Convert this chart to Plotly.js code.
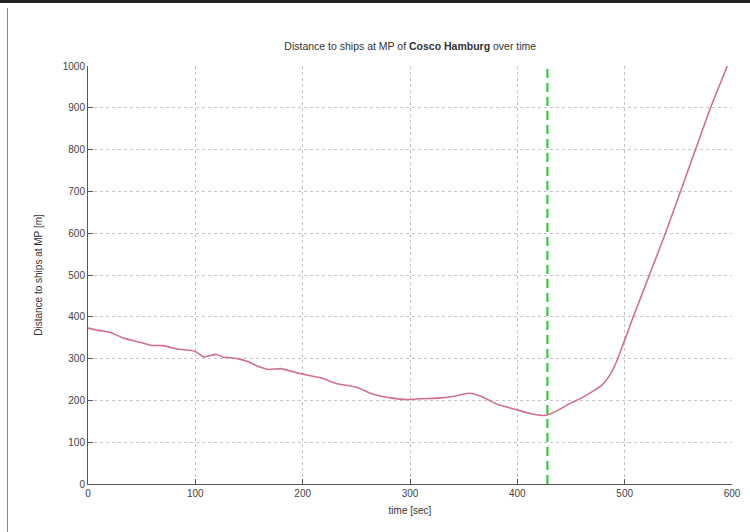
<!DOCTYPE html>
<html>
<head>
<meta charset="utf-8">
<script src="https://cdn.plot.ly/plotly-3.0.1.min.js"></script>
<style>
  html, body { margin: 0; padding: 0; background: #fff; }
  #wrap { position: relative; width: 750px; height: 532px; overflow: hidden; }
  #chart { position: absolute; left: 0; top: 0; width: 750px; height: 532px; }
  #topline { position: absolute; left: 0; top: 0; width: 750px; height: 3px; background: #222; }
  #leftline { position: absolute; left: 7px; top: 8px; width: 1px; height: 524px; background: #888; }
</style>
</head>
<body>
<div id="wrap">
  <div id="chart"></div>
  <div id="topline"></div>
  <div id="leftline"></div>
</div>
<script>
// time [sec]
const timeSec = [0, 11, 20.5, 33, 45.5, 58, 70, 83, 95, 100, 108, 119, 126, 139, 150,
  154.5, 168.5, 179.5, 198, 217, 232, 249.5, 266.6, 282, 298,
  310, 329, 341, 355, 366, 382, 397.5, 413, 424, 430, 441, 450,
  460, 478.5, 486, 492, 499, 508, 516, 525, 538,
  552, 566, 580, 595.6, 600];
// distance to ships at MP [m]
const distance = [373, 367, 363, 349, 341, 332, 331, 323, 320, 317, 304, 310, 304, 300, 292,
  286, 274, 276, 264, 254, 240, 232, 214, 206, 202,
  204, 206, 210, 217, 210, 190, 179, 168, 164, 167, 181, 194,
  206, 236, 260, 290, 337, 400, 453, 513, 600,
  700, 800, 900, 1000, 1030];
// marker time (green dashed line)
const markerTime = [428, 428];
const markerRange = [0, 1000];
const xTicks = [0, 100, 200, 300, 400, 500, 600];
const yTicks = [0, 100, 200, 300, 400, 500, 600, 700, 800, 900, 1000];

const traces = [
  {
    x: timeSec, y: distance, type: 'scatter', mode: 'lines',
    line: { color: '#d36f8b', width: 1.6, shape: 'spline', smoothing: 0.5 },
    hoverinfo: 'skip', showlegend: false
  },
  {
    x: markerTime, y: markerRange, type: 'scatter', mode: 'lines',
    line: { color: '#3cc83c', width: 2.2, dash: '9px,5px' },
    hoverinfo: 'skip', showlegend: false
  }
];

const fontFam = '"Liberation Sans", Arial, sans-serif';
const layout = {
  width: 750, height: 532,
  margin: { l: 88, r: 18, t: 66, b: 48 },
  paper_bgcolor: '#fff', plot_bgcolor: '#fff',
  font: { family: fontFam, size: 10, color: '#333' },
  title: {
    text: 'Distance to ships at MP of <b>Cosco Hamburg</b> over time',
    font: { family: fontFam, size: 10.5, color: '#333' },
    x: 0.547, xanchor: 'center', y: 0.913, yanchor: 'middle'
  },
  xaxis: {
    range: [0, 600], tickvals: xTicks, ticktext: xTicks.map(String),
    showgrid: true, gridcolor: '#c4c4c4', griddash: 'dot', gridwidth: 1,
    zeroline: false, showline: true, linecolor: '#555', linewidth: 1,
    ticks: 'inside', ticklen: 5, tickcolor: '#555',
    tickfont: { family: fontFam, size: 10, color: '#444' },
    title: { text: 'time [sec]', font: { family: fontFam, size: 10, color: '#333' }, standoff: 8 },
    automargin: false, fixedrange: true
  },
  yaxis: {
    range: [0, 1000], tickvals: yTicks, ticktext: yTicks.map(String),
    showgrid: true, gridcolor: '#c4c4c4', griddash: 'dot', gridwidth: 1,
    zeroline: false, showline: true, linecolor: '#555', linewidth: 1,
    ticks: 'inside', ticklen: 5, tickcolor: '#555',
    tickfont: { family: fontFam, size: 10, color: '#444' },
    title: { text: 'Distance to ships at MP [m]', font: { family: fontFam, size: 10, color: '#333' }, standoff: 18 },
    automargin: false, fixedrange: true
  }
};

Plotly.newPlot('chart', traces, layout, { displayModeBar: false, staticPlot: true });
</script>
</body>
</html>
